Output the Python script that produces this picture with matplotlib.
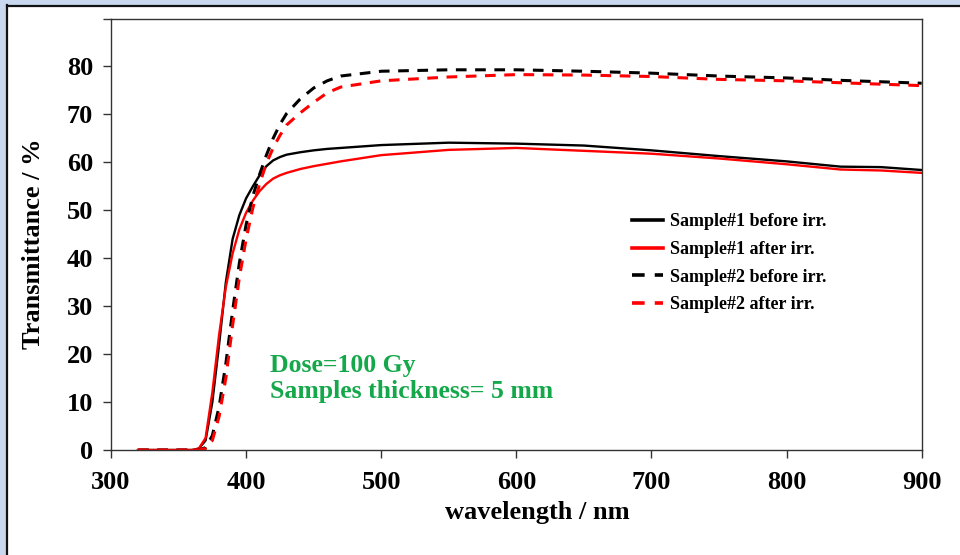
import numpy as np
import matplotlib.pyplot as plt
from matplotlib.patches import Rectangle
from matplotlib.lines import Line2D

# wavelength grid (nm) and transmittance (%)
wl = [320, 340, 360, 365, 370, 375, 380, 385, 390, 395, 400, 405, 410, 415,
      420, 425, 430, 440, 450, 460, 470, 500, 550, 600, 650, 700, 750, 800,
      840, 870, 900]

s1_before = [0, 0, 0, 0.3, 2, 10, 22, 35, 44, 49, 52.5, 55, 57.3, 59.2,
             60.4, 61.1, 61.6, 62.1, 62.5, 62.8, 63.0, 63.6, 64.1, 63.9,
             63.5, 62.5, 61.3, 60.2, 59.1, 59.0, 58.4]
s1_after = [0, 0, 0, 0.3, 2.5, 12, 24, 34, 41, 46, 49.5, 52, 54, 55.5,
            56.6, 57.3, 57.8, 58.6, 59.2, 59.7, 60.2, 61.5, 62.6, 63.0,
            62.4, 61.8, 60.8, 59.6, 58.5, 58.3, 57.8]
s2_before = [0, 0, 0, 0, 0.5, 3, 9, 18, 29, 39, 47, 53, 57.5, 61.5,
             65, 67.9, 70.2, 73.2, 75.5, 77, 78, 79, 79.3, 79.3,
             79, 78.6, 78.0, 77.6, 77.1, 76.8, 76.5]
s2_after = [0, 0, 0, 0, 0.3, 2, 7, 15, 26, 36, 44, 50.5, 55.5, 59.8,
            63, 65.6, 67.8, 70.3, 72.5, 74.5, 75.7, 77, 77.8, 78.3,
            78.2, 77.9, 77.3, 77.0, 76.6, 76.3, 76.0]

labels = ['Sample#1 before irr.', 'Sample#1 after irr.',
          'Sample#2 before irr.', 'Sample#2 after irr.']

plt.rcParams['font.family'] = ['Liberation Serif', 'DejaVu Serif']
plt.rcParams['font.weight'] = 'bold'

fig = plt.figure(figsize=(9.6, 5.55), dpi=100, facecolor='white')
ax = fig.add_axes([111 / 960, 1 - 450 / 555, (921.7 - 111) / 960, (450 - 18.5) / 555])

# outer frame of the screenshot
W, H = 960, 555
fig.patches.append(Rectangle((0, 0), 5 / W, 1, transform=fig.transFigure,
                             color='#c9d8ee', zorder=0))
fig.patches.append(Rectangle((0, 1 - 4 / H), 1, 4 / H, transform=fig.transFigure,
                             color='#c9d8ee', zorder=0))
fig.lines.append(Line2D([6.5 / W, 6.5 / W], [0, 1 - 5 / H], transform=fig.transFigure,
                        color='#111111', lw=1.6))
fig.lines.append(Line2D([6.5 / W, 1], [1 - 5.5 / H, 1 - 5.5 / H], transform=fig.transFigure,
                        color='#111111', lw=1.6))

dash = (0, (3.5, 2.8))
ax.plot(wl, s1_before, color='black', lw=1.7, label=labels[0])
ax.plot(wl, s1_after, color='#ff0000', lw=1.7, label=labels[1])
ax.plot(wl, s2_before, color='black', lw=2.2, linestyle=dash, label=labels[2])
ax.plot(wl, s2_after, color='#ff0000', lw=2.2, linestyle=dash, label=labels[3])

ax.set_xlim(300, 900)
ax.set_ylim(0, 90)
ax.set_xticks(np.arange(300, 901, 100))
ax.set_yticks(np.arange(0, 91, 10))
ax.set_yticklabels([str(v) for v in range(0, 81, 10)] + [''])

for s in ax.spines.values():
    s.set_color('#333333')
    s.set_linewidth(1.0)
ax.tick_params(direction='out', length=6, width=1.0, color='#333333',
               labelsize=19, pad=7)
ax.tick_params(axis='x', pad=9)
for t in ax.get_xticklabels() + ax.get_yticklabels():
    t.set_fontweight('bold')

ax.set_xlabel('wavelength / nm', fontsize=19, fontweight='bold')
ax.set_ylabel('Transmittance / %', fontsize=19, fontweight='bold')
ax.xaxis.set_label_coords(0.5255, -0.118)
ax.yaxis.set_label_coords(-0.082, 0.477)

ax.text(417.5, 14.9, 'Dose=100 Gy\nSamples thickness= 5 mm',
        fontsize=18.5, fontweight='bold', color='#14a84a', va='center', ha='left',
        linespacing=1.2)

leg = ax.legend(loc='upper left', bbox_to_anchor=(0.634, 0.566), frameon=False,
                fontsize=13, handlelength=1.7, handletextpad=0.4,
                labelspacing=0.6, borderaxespad=0)
for t in leg.get_texts():
    t.set_fontweight('bold')
for h in leg.get_lines():
    h.set_linewidth(2.6)

fig.savefig('out.png', dpi=100, facecolor='white')
